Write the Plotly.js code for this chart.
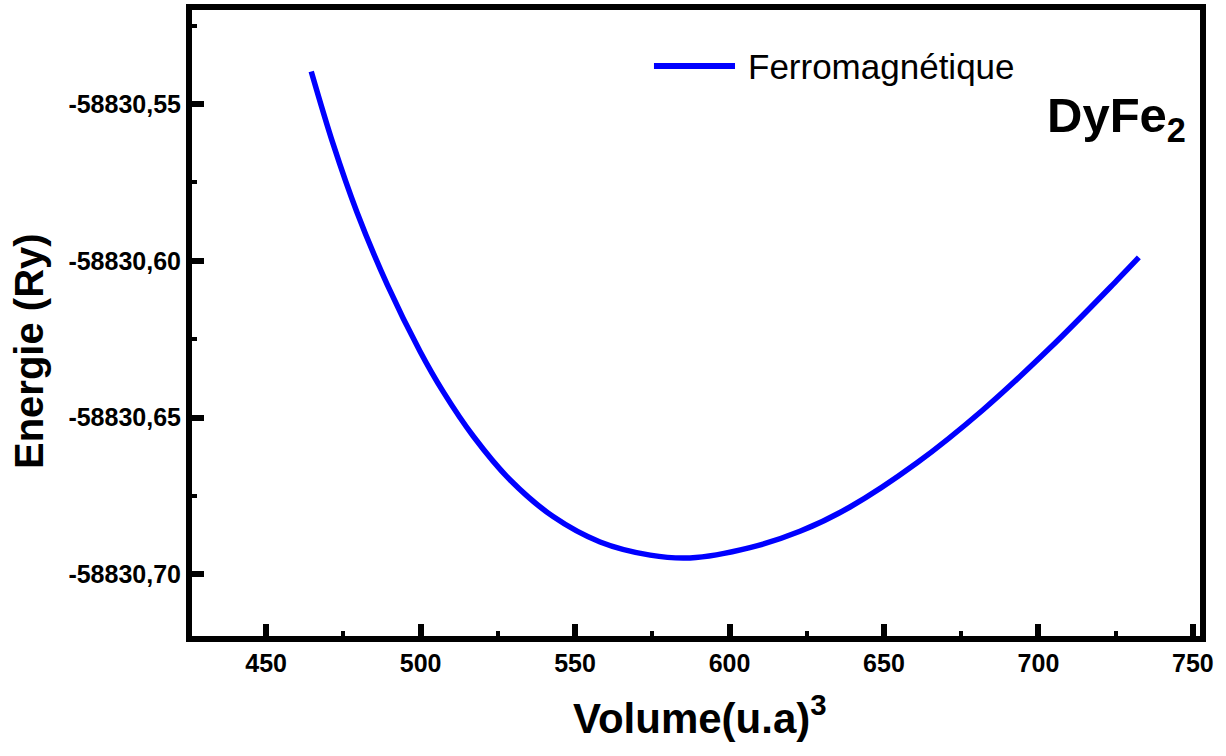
<!DOCTYPE html>
<html>
<head>
<meta charset="utf-8">
<script src="https://cdn.plot.ly/plotly-3.0.1.min.js"></script>
<style>html,body{margin:0;padding:0;background:#fff;}#chart{width:1226px;height:756px;}</style>
</head>
<body>
<div id="chart"></div>
<script>
// Data
const volume = [464.6, 471.7, 479.4, 489.2, 499.8, 507.3, 517.0, 529.0, 542.9, 558.1,
                574.3, 587.2, 606.6, 622.8, 639.0, 660.7, 682.0, 703.7, 725.4, 732.5];
const energie = [-58830.5396, -58830.5628, -58830.5845, -58830.6076, -58830.62885,
                 -58830.64175, -58830.6559, -58830.66995, -58830.6816, -58830.6897,
                 -58830.6939, -58830.6948, -58830.6915, -58830.6863, -58830.67855,
                 -58830.66445, -58830.6476, -58830.62785, -58830.60625, -58830.59895];
const seriesName = "Ferromagnétique";
const xTickVals = [450, 500, 550, 600, 650, 700, 750];
const xTickText = ["450", "500", "550", "600", "650", "700", "750"];
const yTickVals = [-58830.55, -58830.60, -58830.65, -58830.70];
const yTickText = ["-58830,55", "-58830,60", "-58830,65", "-58830,70"];
const compound = "DyFe<sub>2</sub>";
const xTitle = "Volume(u.a)<sup>3</sup>";
const yTitle = "Energie (Ry)";

const FONT = "Liberation Sans, Arial, Helvetica, sans-serif";

const trace = {
  x: volume, y: energie, mode: "lines", name: seriesName,
  line: {color: "#0000ff", width: 5.5, shape: "spline", smoothing: 1},
  showlegend: false
};

const axisCommon = {
  showline: true, linewidth: 6, linecolor: "#000", mirror: true,
  ticks: "inside", ticklen: 12, tickwidth: 6, tickcolor: "#000",
  showgrid: false, zeroline: false,
  tickfont: {family: FONT, size: 25, color: "#000", weight: "bold"}
};

const layout = {
  width: 1226, height: 756,
  margin: {l: 192, r: 26, t: 10, b: 120},
  paper_bgcolor: "#fff", plot_bgcolor: "#fff",
  font: {family: FONT, color: "#000"},
  xaxis: Object.assign({}, axisCommon, {
    range: [426, 752.3], tickmode: "array", tickvals: xTickVals, ticktext: xTickText,
    minor: {ticks: "inside", ticklen: 5, tickwidth: 4, tickcolor: "#000", dtick: 25, tick0: 0}
  }),
  yaxis: Object.assign({}, axisCommon, {
    range: [-58830.7197, -58830.52], tickmode: "array", tickvals: yTickVals, ticktext: yTickText,
    minor: {ticks: "inside", ticklen: 5, tickwidth: 4, tickcolor: "#000", dtick: 0.025, tick0: -58830.70}
  }),
  shapes: [
    {type: "line", xref: "paper", yref: "paper", x0: 0.4583, x1: 0.5387, y0: 0.9105, y1: 0.9105,
     line: {color: "#0000ff", width: 6}}
  ],
  annotations: [
    {xref: "paper", yref: "paper", x: 0.5496, y: 0.9105, xanchor: "left", yanchor: "middle",
     text: seriesName, showarrow: false, font: {family: FONT, size: 35, color: "#000"}},
    {xref: "paper", yref: "paper", x: 0.846, y: 0.826, xanchor: "left", yanchor: "middle",
     text: compound, showarrow: false, font: {family: FONT, size: 49, color: "#000", weight: "bold"}},
    {xref: "paper", yref: "paper", x: 0.504, y: -0.1262, xanchor: "center", yanchor: "middle",
     text: xTitle, showarrow: false, font: {family: FONT, size: 42, color: "#000", weight: "bold"}},
    {xref: "paper", yref: "paper", x: -0.1617, y: 0.4553, xanchor: "center", yanchor: "middle",
     textangle: -90, text: yTitle, showarrow: false, font: {family: FONT, size: 40, color: "#000", weight: "bold"}}
  ]
};

Plotly.newPlot("chart", [trace], layout, {displayModeBar: false, staticPlot: true});
</script>
</body>
</html>
